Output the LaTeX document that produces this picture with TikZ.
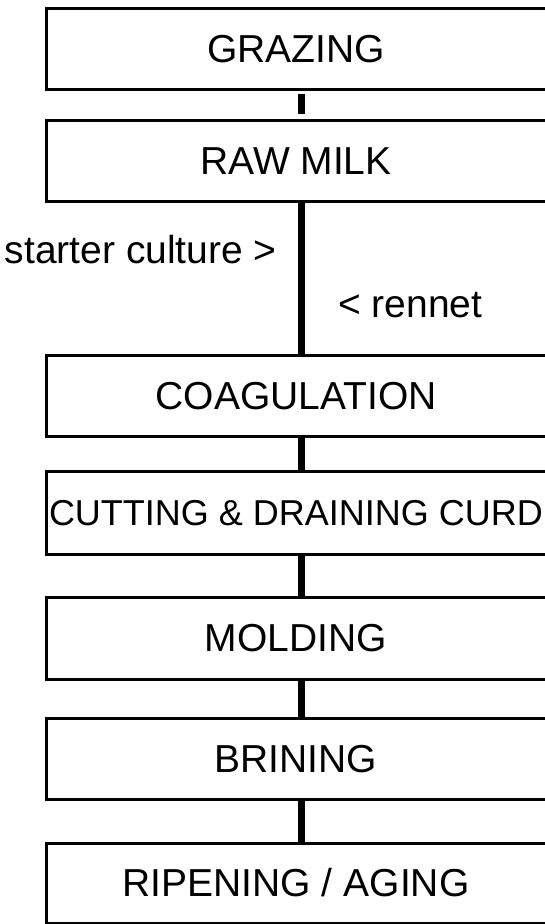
\documentclass[tikz,border=0pt]{standalone}
\usepackage{fontspec}
\setmainfont{Liberation Sans}
\usetikzlibrary{calc}
\newcommand{\bxtext}[1]{#1\kern7pt}
\begin{document}
\begin{tikzpicture}[x=1pt,y=-1pt,
  stepbox/.style={draw=black,line width=3pt,rectangle,minimum width=506pt,minimum height=81pt,
    inner sep=0pt,anchor=west,font=\fontsize{39}{42}\selectfont,text height=27.9pt,text depth=0pt},
  conn/.style={draw=black,line width=7.7pt},
  lbl/.style={font=\fontsize{39}{42}\selectfont,inner sep=0pt}]
\useasboundingbox (0,0) rectangle (545,924);
\clip (0,0) rectangle (545,924);
\coordinate (cx) at (301.5,0);
\node[stepbox] (g) at (45,49) {\bxtext{GRAZING}};
\node[stepbox] (r) at (45,160.5) {\bxtext{RAW MILK}};
\node[stepbox] (c) at (45,395.5) {\bxtext{COAGULATION}};
\node[stepbox,minimum height=82.5pt,font=\fontsize{36}{39}\selectfont,text height=25.8pt] (d) at (45,513) {\bxtext{CUTTING \& DRAINING CURD}};
\node[stepbox,minimum height=82pt] (m) at (45,638) {\bxtext{MOLDING}};
\node[stepbox] (b) at (45,759) {\bxtext{BRINING}};
\node[stepbox,minimum height=80pt] (a) at (45,883) {\bxtext{RIPENING / AGING}};
\draw[conn,shorten <=3pt,shorten >=5pt] (g.south -| cx) -- (r.north -| cx);
\draw[conn] (r.south -| cx) -- (c.north -| cx);
\draw[conn] (c.south -| cx) -- (d.north -| cx);
\draw[conn] (d.south -| cx) -- (m.north -| cx);
\draw[conn] (m.south -| cx) -- (b.north -| cx);
\draw[conn] (b.south -| cx) -- (a.north -| cx);
\node[lbl,anchor=base east] (sc) at (277,263) {starter culture >};
\node[lbl,anchor=base west] (rn) at (338,317) {< rennet};
\end{tikzpicture}
\end{document}
